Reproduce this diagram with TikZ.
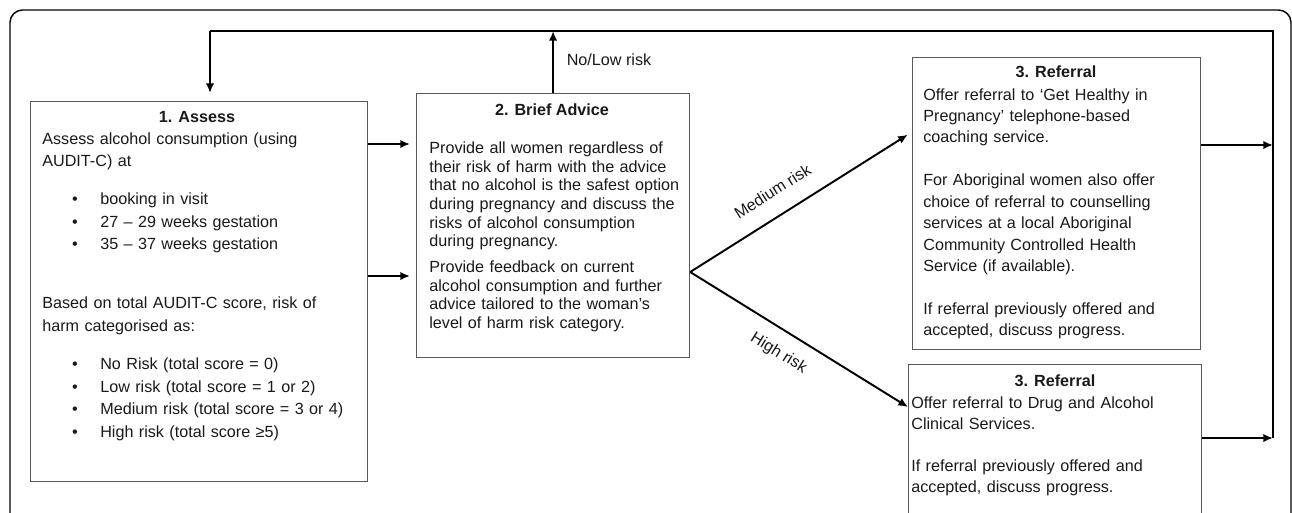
\documentclass[tikz,border=0pt]{standalone}
\usepackage{fontspec}
\setmainfont{Liberation Sans}
\usetikzlibrary{arrows.meta}

\newcommand{\blt}{\hspace*{17pt}\makebox[16pt][l]{•}}

\tikzset{
  box/.style={draw=black!65, line width=.7pt, inner sep=0pt, anchor=north west},
  body/.style={inner sep=0pt, anchor=base west, align=left, text width=6.4cm, text=black!90},
  ttl/.style={inner sep=0pt, anchor=base, text=black!90, font=\fontsize{9.2}{11}\selectfont\bfseries},
  lbl/.style={inner sep=0pt, text=black!90, font=\fontsize{9.2}{11}\selectfont},
  arr/.style={->, line width=1.1pt},
  flow/.style={line width=1.1pt},
}

\begin{document}
\begin{tikzpicture}[x=0.02cm, y=-0.02cm, >={Latex[length=5.5pt,width=4.8pt]}]
  \useasboundingbox (0,0) rectangle (1292,512);
  \clip (0,0) rectangle (1292,512);
  % outer frame
  \draw[line width=.8pt, rounded corners=.25cm] (10,10) rectangle (1291,560);

  % boxes
  \node[box, minimum width=6.74cm, minimum height=7.6cm] (assess) at (30,101) {};
  \node[box, minimum width=5.46cm, minimum height=5.28cm] (advice) at (416,93) {};
  \node[box, minimum width=5.76cm, minimum height=5.84cm] (refmed) at (912,57) {};
  \node[box, minimum width=5.86cm, minimum height=4cm] (refhigh) at (908,364) {};

  % 1. Assess
  \node[ttl] (assessttl) at (197,122) {1. Assess};
  \node[body, font=\fontsize{9.2}{12.9}\selectfont] (assesstxt) at (42,144)
    {Assess alcohol consumption (using\\
     AUDIT-C) at\\[8.7pt]
     \blt booking in visit\\
     \blt 27 – 29 weeks gestation\\
     \blt 35 – 37 weeks gestation\\[20.7pt]
     Based on total AUDIT-C score, risk of\\
     harm categorised as:\\[8.7pt]
     \blt No Risk (total score = 0)\\
     \blt Low risk (total score = 1 or 2)\\
     \blt Medium risk (total score = 3 or 4)\\
     \blt High risk (total score ≥5)};

  % 2. Brief Advice
  \node[ttl] (advicettl) at (552,115) {2. Brief Advice};
  \node[body, font=\fontsize{9.2}{10.6}\selectfont] (advicetxt) at (429,153.5)
    {Provide all women regardless of\\
     their risk of harm with the advice\\
     that no alcohol is the safest option\\
     during pregnancy and discuss the\\
     risks of alcohol consumption\\
     during pregnancy.\\[4.2pt]
     Provide feedback on current\\
     alcohol consumption and further\\
     advice tailored to the woman’s\\
     level of harm risk category.};

  % 3. Referral (medium)
  \node[ttl] (refmedttl) at (1056,77) {3. Referral};
  \node[body, font=\fontsize{9.2}{12.2}\selectfont] (refmedtxt) at (923,100)
    {Offer referral to ‘Get Healthy in\\
     Pregnancy’ telephone-based\\
     coaching service.\\[12.2pt]
     For Aboriginal women also offer\\
     choice of referral to counselling\\
     services at a local Aboriginal\\
     Community Controlled Health\\
     Service (if available).\\[12.2pt]
     If referral previously offered and\\
     accepted, discuss progress.};

  % 3. Referral (high)
  \node[ttl] (refhighttl) at (1055,386) {3. Referral};
  \node[body, font=\fontsize{9.2}{12}\selectfont] (refhightxt) at (911,408)
    {Offer referral to Drug and Alcohol\\
     Clinical Services.\\[12pt]
     If referral previously offered and\\
     accepted, discuss progress.};

  % connectors
  \coordinate (lt) at (210,31);
  \coordinate (rt) at (1273,31);
  \coordinate (rb) at (1273,438);
  \coordinate (fork) at (advice.east |- 0,272);

  \draw[arr, shorten >=0.12cm] (assess.east |- 0,144) -- (advice.west |- 0,144);
  \draw[arr, shorten >=0.12cm] (assess.east |- 0,276) -- (advice.west |- 0,276);

  \draw[arr] (advice.north) -- (advice.north |- lt);
  \node[lbl, anchor=base] (nolow) at (609,65) {No/Low risk};

  \draw[arr, shorten >=0.1cm] (fork) -- (refmed.west |- 0,132)
    node[lbl, pos=.43, sloped, above=10pt] (medlbl) {Medium risk};
  \draw[arr] (fork) -- (refhigh.west |- 0,407)
    node[lbl, pos=.46, sloped, below=8pt] (highlbl) {High risk};

  \draw[arr] (refmed.east |- 0,145) -- (rt |- 0,145);
  \draw[arr] (refhigh.east |- rb) -- (rb);
  \draw[flow] (rb) -- (rt) -- (lt);
  \draw[arr, shorten >=0.16cm] (lt) -- (lt |- assess.north);
\end{tikzpicture}
\end{document}
